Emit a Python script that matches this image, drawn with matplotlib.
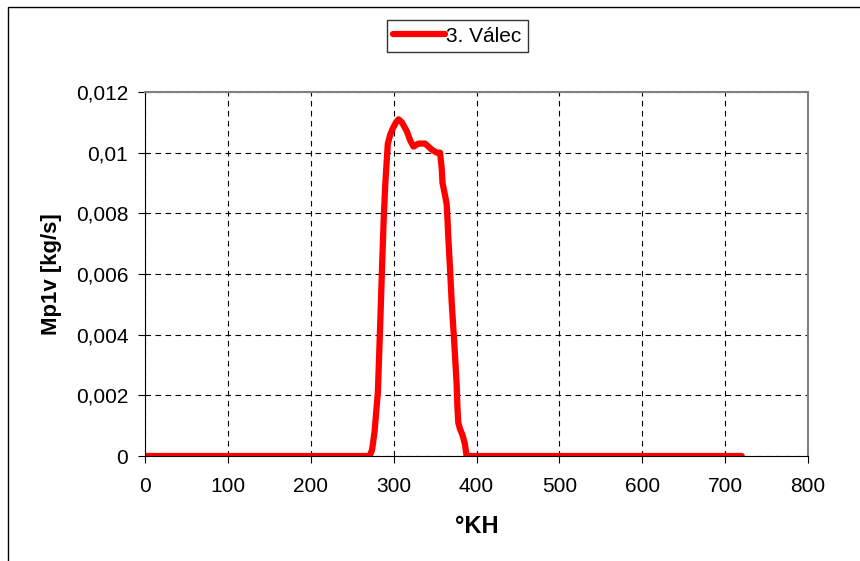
import matplotlib.pyplot as plt
from matplotlib.patches import Rectangle
from matplotlib.ticker import FuncFormatter

plt.rcParams['font.family'] = ['Liberation Sans', 'DejaVu Sans']

# crank angle [deg] and mass flow [kg/s]
deg = [0, 100, 200, 271, 274, 277, 281, 284, 286, 288, 290, 293, 296, 299, 303, 306,
       310, 316, 320, 324, 330, 338, 342, 346, 352, 356, 358, 359, 362, 364, 365, 366,
       368, 370, 373, 376, 377, 378, 380, 383, 386, 388, 400, 500, 600, 720]
mp1v = [0, 0, 0, 0, 0.0002, 0.0008, 0.0021, 0.0045, 0.0062, 0.0078, 0.009, 0.0103,
        0.0106, 0.0108, 0.011, 0.0111, 0.011, 0.0107, 0.0104, 0.0102, 0.0103, 0.0103,
        0.0102, 0.0101, 0.0100, 0.0100, 0.0095, 0.009, 0.0086, 0.0083, 0.0078, 0.0072,
        0.0062, 0.0051, 0.0038, 0.0024, 0.0016, 0.0011, 0.0009, 0.0007, 0.0004, 0,
        0, 0, 0, 0]

fig = plt.figure(figsize=(8.6, 5.61), dpi=100)
fig.patches.append(Rectangle((8 / 860, -0.1), 1.2, 1 - 7 / 561 + 0.1, transform=fig.transFigure,
                             fill=False, edgecolor='black', linewidth=1))
ax = fig.add_axes([145 / 860, 1 - 456 / 561, 663 / 860, 364 / 561])

ax.plot(deg, mp1v, color='#ff0000', linewidth=4.5, solid_joinstyle='round',
        solid_capstyle='round', label='3. Válec')

ax.set_xlim(0, 800)
ax.set_ylim(0, 0.012)
ax.set_xticks(range(0, 801, 100))
ax.set_yticks([0, 0.002, 0.004, 0.006, 0.008, 0.01, 0.012])
ax.yaxis.set_major_formatter(FuncFormatter(lambda v, p: ('%g' % v).replace('.', ',')))
ax.grid(True, color='black', linestyle=(0, (5, 4)), linewidth=0.8)
ax.set_axisbelow(True)

for s in ['top', 'right']:
    ax.spines[s].set_color('#808080')
    ax.spines[s].set_linewidth(1.5)
for s in ['left', 'bottom']:
    ax.spines[s].set_color('black')
ax.tick_params(direction='out', length=5, labelsize=15, colors='black')
ax.tick_params(axis='x', pad=10)
ax.tick_params(axis='y', pad=7)

ax.set_xlabel('°KH', fontsize=17, fontweight='bold', labelpad=14)
ax.set_ylabel('Mp1v [kg/s]', fontsize=16, fontweight='bold', labelpad=10)

leg = fig.legend(loc='center', bbox_to_anchor=(457.5 / 860, 1 - 36 / 561), fontsize=15,
                 frameon=True, fancybox=False, edgecolor='black', handlelength=2.5,
                 handletextpad=0.05, borderpad=0.3, borderaxespad=0)
leg.get_frame().set_linewidth(1)

fig.savefig('out.png', dpi=100)
